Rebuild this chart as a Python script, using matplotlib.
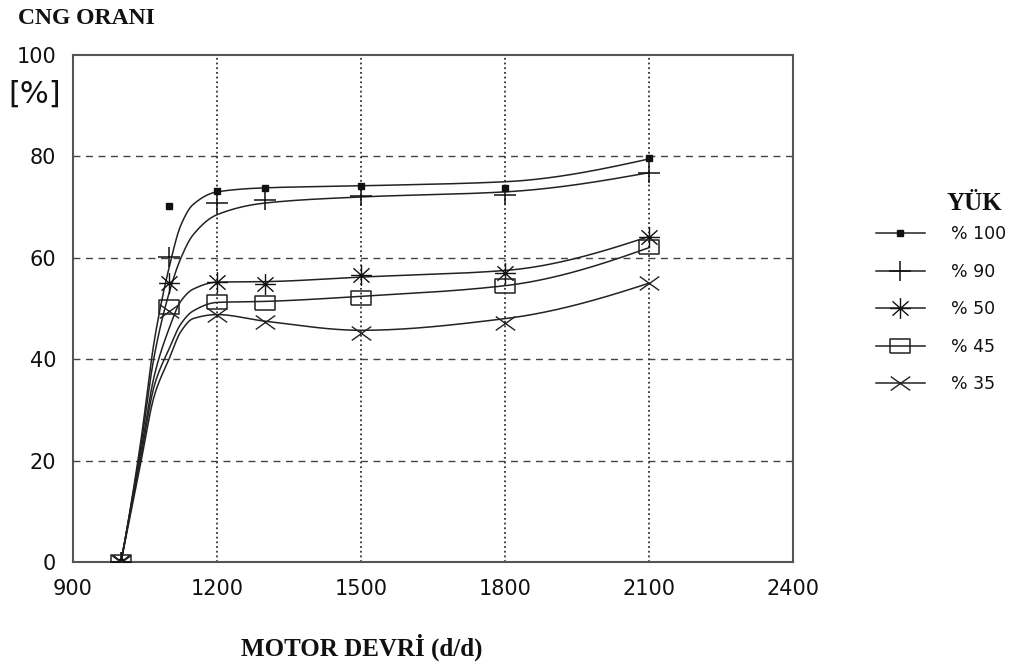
import numpy as np
import matplotlib
matplotlib.use("Agg")
import matplotlib.pyplot as plt
from matplotlib.path import Path
from matplotlib.lines import Line2D

# ---- data ----
speed = [1000, 1100, 1200, 1300, 1500, 1800, 2100]
load100 = [0, 70.2, 73.2, 73.8, 74.2, 73.8, 79.6]
load90 = [0, 60.2, 70.9, 71.4, 72.2, 72.4, 76.7]
load50 = [0, 55.0, 55.3, 54.8, 56.6, 57.0, 64.2]
load45 = [0, 50.3, 51.3, 51.1, 52.0, 54.4, 62.1]
load35 = [0, 49.5, 48.7, 47.4, 45.1, 47.2, 55.0]

# fitted (smoothed) trend curves as drawn in the original, read at these speeds
fit_speed = [1000, 1040, 1070, 1100, 1125, 1150, 1200, 1300, 1500, 1800, 2100]
fit100 = [0, 23, 44, 58, 66.5, 70.5, 73.0, 73.8, 74.2, 75.0, 79.5]
fit90 = [0, 22, 41, 53, 60, 64.5, 68.5, 70.8, 72.0, 73.0, 76.8]
fit50 = [0, 21, 37, 46, 51.5, 53.8, 55.2, 55.3, 56.2, 57.5, 64.2]
fit45 = [0, 20, 35, 42, 47, 49.5, 51.2, 51.4, 52.4, 54.5, 62.0]
fit35 = [0, 19, 33, 40, 45.5, 48, 48.8, 47.5, 45.7, 48.0, 55.0]

labels = ["% 100", "% 90", "% 50", "% 45", "% 35"]
x_ticks = [900, 1200, 1500, 1800, 2100, 2400]
y_ticks = [0, 20, 40, 60, 80, 100]


def pchip(x, y, xn):
    x = np.asarray(x, float); y = np.asarray(y, float)
    h = np.diff(x); d = np.diff(y) / h
    n = len(x); m = np.zeros(n)
    for k in range(1, n - 1):
        if d[k - 1] * d[k] > 0:
            w1 = 2 * h[k] + h[k - 1]; w2 = h[k] + 2 * h[k - 1]
            m[k] = (w1 + w2) / (w1 / d[k - 1] + w2 / d[k])
    def end(h0, h1, d0, d1):
        s = ((2 * h0 + h1) * d0 - h0 * d1) / (h0 + h1)
        if np.sign(s) != np.sign(d0):
            s = 0
        elif np.sign(d0) != np.sign(d1) and abs(s) > abs(3 * d0):
            s = 3 * d0
        return s
    m[0] = end(h[0], h[1], d[0], d[1])
    m[-1] = end(h[-1], h[-2], d[-1], d[-2])
    idx = np.clip(np.searchsorted(x, xn) - 1, 0, n - 2)
    t = (xn - x[idx]) / h[idx]
    h00 = 2 * t**3 - 3 * t**2 + 1; h10 = t**3 - 2 * t**2 + t
    h01 = -2 * t**3 + 3 * t**2; h11 = t**3 - t**2
    return h00 * y[idx] + h10 * h[idx] * m[idx] + h01 * y[idx + 1] + h11 * h[idx] * m[idx + 1]


# stretched marker shapes (original image is horizontally stretched)
rect = Path([(-1.3, -1), (1.3, -1), (1.3, 1), (-1.3, 1), (-1.3, -1)])
xmark = Path([(-1.4, -1), (1.4, 1), (-1.4, 1), (1.4, -1)],
             [Path.MOVETO, Path.LINETO, Path.MOVETO, Path.LINETO])
star = Path([(-1.3, 0), (1.3, 0), (0, -1.3), (0, 1.3), (-1, -0.9), (1, 0.9), (-1, 0.9), (1, -0.9)],
            [Path.MOVETO, Path.LINETO] * 4)
plus = Path([(-1.2, 0), (1.2, 0), (0, -1.1), (0, 1.1)],
            [Path.MOVETO, Path.LINETO] * 2)

styles = [
    dict(marker="s", ms=4.2, mfc="#111111", mec="#111111", mew=1.0),
    dict(marker=plus, ms=16, mfc="none", mec="#111111", mew=1.1),
    dict(marker=star, ms=15, mfc="none", mec="#111111", mew=1.0),
    dict(marker=rect, ms=14, mfc="none", mec="#222222", mew=1.1),
    dict(marker=xmark, ms=14, mfc="none", mec="#222222", mew=1.0),
]

series = [load100, load90, load50, load45, load35]
fits = [fit100, fit90, fit50, fit45, fit35]

fig = plt.figure(figsize=(10.36, 6.64), dpi=100)
ax = fig.add_axes([73 / 1036, 1 - 562 / 664, 720 / 1036, 507 / 664])

xs = np.linspace(fit_speed[0], fit_speed[-1], 600)
for vals, fit, st in zip(series, fits, styles):
    ax.plot(xs, pchip(fit_speed, fit, xs), color="#222222", lw=1.1, zorder=3)
    ax.plot(speed, vals, ls="none", zorder=4, **st)

ax.set_xlim(900, 2400)
ax.set_ylim(0, 100)
ax.set_xticks(x_ticks)
ax.set_yticks(y_ticks)
ax.tick_params(length=0, labelsize=15, pad=12, colors="#111111")
for lab in ax.get_xticklabels() + ax.get_yticklabels():
    lab.set_family("DejaVu Sans")

for v in y_ticks[1:-1]:
    ax.axhline(v, color="#444444", lw=1.0, ls=(0, (5, 4)), zorder=1)
for v in x_ticks[1:-1]:
    ax.axvline(v, color="#333333", lw=1.3, ls=(0, (1, 1.6)), zorder=1)

for s in ax.spines.values():
    s.set_color("#555555")
    s.set_linewidth(1.5)

fig.text(18 / 1036, 1 - 18 / 664, "CNG ORANI", family="Liberation Serif",
         fontweight="bold", fontsize=17, va="center", ha="left", color="#111111")
fig.text(8 / 1036, 1 - 94 / 664, "[%]", family="DejaVu Sans",
         fontsize=22, va="center", ha="left", color="#111111")
fig.text(362 / 1036, 1 - 647 / 664, "MOTOR DEVRİ (d/d)", family="Liberation Serif",
         fontweight="bold", fontsize=18, va="center", ha="center", color="#111111")
fig.text(974 / 1036, 1 - 203 / 664, "YÜK", family="Liberation Serif",
         fontweight="bold", fontsize=18, va="center", ha="center", color="#111111")

handles = [Line2D([], [], color="#222222", lw=1.1, **st) for st in styles]
leg = fig.legend(handles, labels, loc="upper left",
                 bbox_to_anchor=(876 / 1036, 1 - 225 / 664),
                 frameon=False, fontsize=12.5, handlelength=2.8,
                 handletextpad=1.5, labelspacing=1.13, borderpad=0,
                 borderaxespad=0)
for t in leg.get_texts():
    t.set_family("DejaVu Sans")
    t.set_color("#111111")

fig.savefig("out.png", dpi=100)
